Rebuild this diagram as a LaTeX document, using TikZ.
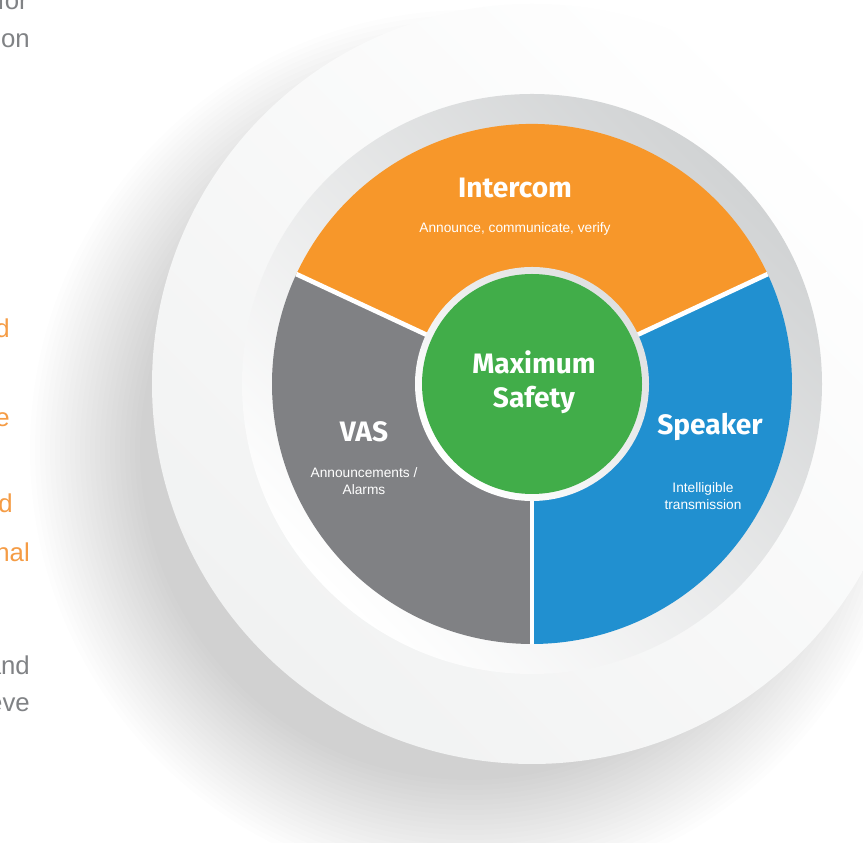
\documentclass[tikz,border=0pt]{standalone}
\usepackage{fontspec}
\setmainfont{Liberation Sans}
\newfontfamily\headfont{Fira Sans}
\usetikzlibrary{positioning}

\definecolor{segorange}{HTML}{F7972A}
\definecolor{seggray}{HTML}{808184}
\definecolor{segblue}{HTML}{2190D0}
\definecolor{seggreen}{HTML}{41AD49}
\definecolor{ringgray}{HTML}{D1D3D4}
\definecolor{discgray}{HTML}{F1F2F2}
\definecolor{txtgray}{HTML}{808285}
\definecolor{txtorange}{HTML}{F59C45}

\begin{document}
\begin{tikzpicture}[x=0.03cm,y=0.03cm,
  title/.style={text=white, align=center, inner sep=0pt, font=\headfont\bfseries\fontsize{24}{29}\selectfont},
  note/.style={text=white, align=center, inner sep=0pt, font=\fontsize{11.7}{14.5}\selectfont},
  frag/.style={anchor=base east, inner sep=0pt, font=\fontsize{22}{26}\selectfont},
  sep/.style={white, line width=4pt}]
\useasboundingbox (0,0) rectangle (863,843);
\clip (0,0) rectangle (863,843);
\fill[white] (0,0) rectangle (863,843);
\coordinate (c) at (532,459);
\coordinate (sh) at (470,393);

% cut-off text on the left
\node[frag, text=txtgray] (fragfor) at (28,833) {for};
\node[frag, text=txtgray] (fragtion) at (30,795) {tion};
\node[frag, text=txtorange] (fragd) at (10,505) {d};
\node[frag, text=txtorange] (frage) at (10,416) {e};
\node[frag, text=txtorange] (fragdd) at (13,330) {d};
\node[frag, text=txtorange] (fragnal) at (30,281) {nal};
\node[frag, text=txtgray] (fragand) at (30,168) {and};
\node[frag, text=txtgray] (frageve) at (30,131) {eve};

% shadow
\foreach \r in {330,335,...,440}
  \fill[black, opacity=0.009] (sh) circle (\r);

% discs and ring
\shade[top color=white, middle color=discgray, bottom color=discgray, shading angle=-45] (c) circle (380);
\shade[top color=ringgray, bottom color=white, shading angle=-45] (c) circle (290);

% segments
\fill[segorange] (c) -- ++(25:260) arc[start angle=25, end angle=155, radius=260] -- cycle;
\fill[seggray] (c) -- ++(155:260) arc[start angle=155, end angle=270, radius=260] -- cycle;
\fill[segblue] (c) -- ++(270:260) arc[start angle=270, end angle=385, radius=260] -- cycle;
\draw[sep] (c) -- ++(25:260);
\draw[sep] (c) -- ++(155:260);
\draw[sep] (c) -- ++(270:260);

% centre
\shade[top color=ringgray!70, bottom color=white, shading angle=-45] (c) circle (117);
\fill[seggreen] (c) circle (110);

\node[title] (safety) at (534,461) {Maximum\\Safety};
\node[title] (intercom) at (515,655) {Intercom};
\node[note, below=21pt of intercom] (intercomnote) {Announce, communicate, verify};
\node[title] (vas) at (364,411) {VAS};
\node[note, below=21pt of vas] (vasnote) {Announcements /\\Alarms};
\node[title] (speaker) at (710,416) {Speaker};
\node[note, below=35pt of speaker, xshift=-6pt] (speakernote) {Intelligible\\transmission};
\end{tikzpicture}
\end{document}
